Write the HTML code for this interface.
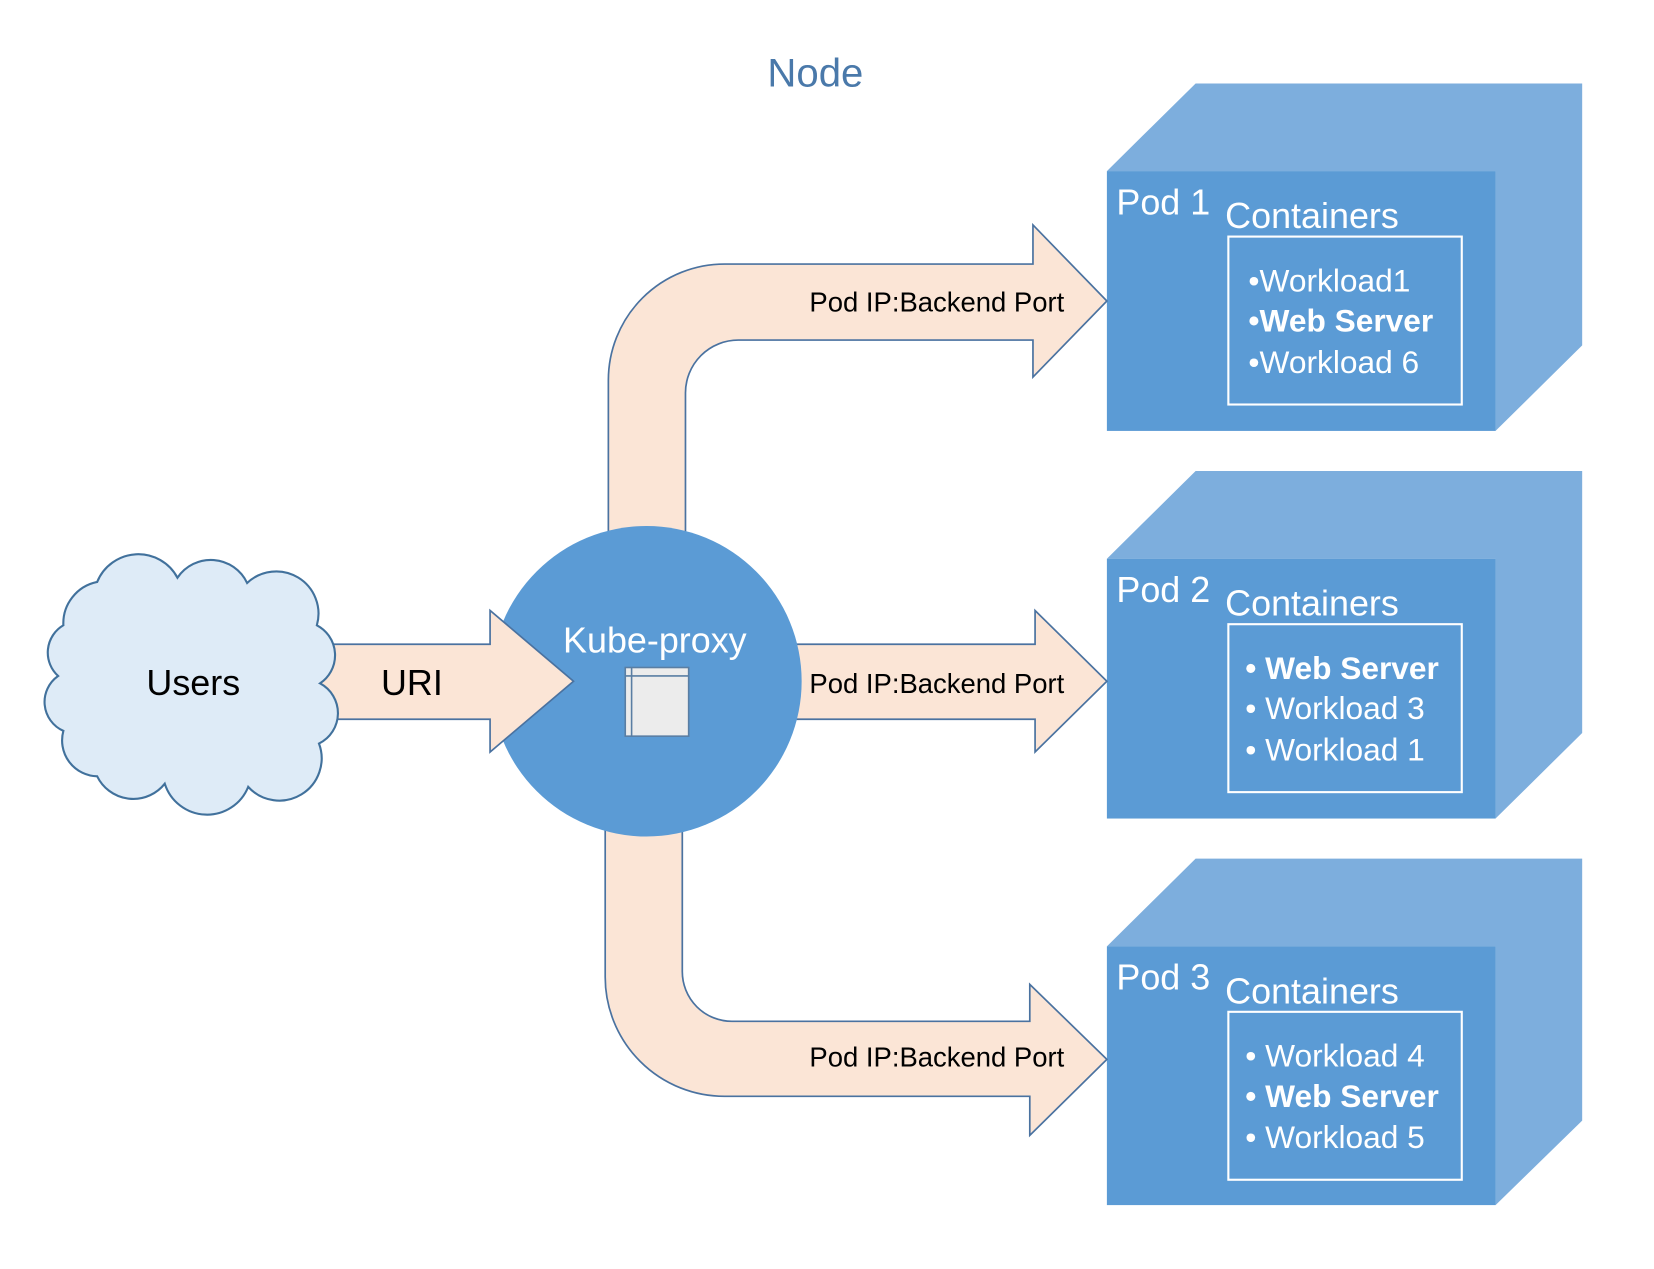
<!DOCTYPE html>
<html><head><meta charset="utf-8"><style>
html,body{margin:0;padding:0;background:#fff;}
svg{display:block;}
text{font-family:"Liberation Sans Narrow","Liberation Sans",sans-serif;}
</style></head><body>
<svg width="1654" height="1269" viewBox="0 0 1566 1201.5" preserveAspectRatio="none" xmlns="http://www.w3.org/2000/svg">
<text x="772" y="82" font-size="38" fill="#4a79aa" text-anchor="middle">Node</text>

<g>
  <polygon points="1048,162 1132,79 1498,79 1498,327 1416,408 1416,162" fill="#7daedd"/>
  <rect x="1048" y="162" width="368" height="246" fill="#5b9bd5"/>
  <rect x="1163" y="224" width="221" height="159" fill="none" stroke="#fff" stroke-width="2"/>
  <text x="1057" y="203" font-size="34" fill="#fff">Pod 1</text>
  <text x="1160" y="216" font-size="34" fill="#fff">Containers</text>
  <text x="1182" y="276" font-size="30" fill="#fff">•Workload1</text>
  <text x="1182" y="314" font-size="30" fill="#fff" font-weight="bold">•Web Server</text>
  <text x="1182" y="353" font-size="30" fill="#fff">•Workload 6</text>
</g>
<g>
  <polygon points="1048,529 1132,446 1498,446 1498,694 1416,775 1416,529" fill="#7daedd"/>
  <rect x="1048" y="529" width="368" height="246" fill="#5b9bd5"/>
  <rect x="1163" y="591" width="221" height="159" fill="none" stroke="#fff" stroke-width="2"/>
  <text x="1057" y="570" font-size="34" fill="#fff">Pod 2</text>
  <text x="1160" y="583" font-size="34" fill="#fff">Containers</text>
  <text x="1179" y="643" font-size="30" fill="#fff" font-weight="bold">• Web Server</text>
  <text x="1179" y="681" font-size="30" fill="#fff">• Workload 3</text>
  <text x="1179" y="720" font-size="30" fill="#fff">• Workload 1</text>
</g>
<g>
  <polygon points="1048,896 1132,813 1498,813 1498,1061 1416,1141 1416,896" fill="#7daedd"/>
  <rect x="1048" y="896" width="368" height="245" fill="#5b9bd5"/>
  <rect x="1163" y="958" width="221" height="159" fill="none" stroke="#fff" stroke-width="2"/>
  <text x="1057" y="937" font-size="34" fill="#fff">Pod 3</text>
  <text x="1160" y="950" font-size="34" fill="#fff">Containers</text>
  <text x="1179" y="1010" font-size="30" fill="#fff">• Workload 4</text>
  <text x="1179" y="1048" font-size="30" fill="#fff" font-weight="bold">• Web Server</text>
  <text x="1179" y="1087" font-size="30" fill="#fff">• Workload 5</text>
</g>

<g fill="#fbe5d6" stroke="#4a72a0" stroke-width="1.6" stroke-linejoin="miter">
  <path d="M576,520 L576,360 A110,110 0 0 1 686,250 L978,250 L978,213 L1048,285 L978,357 L978,322 L699,322 A50,50 0 0 0 649,372 L649,520"/>
  <path d="M740,610 L980,610 L980,578 L1048,645 L980,712 L980,681 L740,681 Z"/>
  <path d="M573,770 L573,925 A113,113 0 0 0 686,1038 L975,1038 L975,1075 L1048,1003 L975,932 L975,967 L693,967 A47,47 0 0 1 646,920 L646,770"/>
</g>

<circle cx="612" cy="645" r="147" fill="#5b9bd5"/>

<path d="M290,610 L464,610 L464,578 L543,645 L464,712 L464,681 L290,681 Z" fill="#fbe5d6" stroke="#4a72a0" stroke-width="1.6"/>

<path d="M60,592 A40,40 0 0 1 92,551 A42,42 0 0 1 168,547 A38,38 0 0 1 234,552 A40,40 0 0 1 300,592 A32,32 0 0 1 303,647 A32,32 0 0 1 302,704 A40,40 0 0 1 235,745 A42,42 0 0 1 156,742 A38,38 0 0 1 92,735 A34,34 0 0 1 60,692 A30,30 0 0 1 55,640 A30,30 0 0 1 60,592 Z" fill="#deebf7" stroke="#41719c" stroke-width="2"/>
<text x="183" y="658" font-size="34" fill="#000" text-anchor="middle">Users</text>
<text x="390" y="658" font-size="34" fill="#000" text-anchor="middle">URI</text>

<text x="620" y="618" font-size="34" fill="#fff" text-anchor="middle">Kube-proxy</text>
<rect x="592" y="632" width="60" height="65" fill="#ececec" stroke="#5a7ea3" stroke-width="1.5"/>
<line x1="598" y1="632" x2="598" y2="697" stroke="#5a7ea3" stroke-width="1.5"/>
<line x1="592" y1="640" x2="652" y2="640" stroke="#5a7ea3" stroke-width="1.5"/>

<text x="887" y="295" font-size="26" fill="#000" text-anchor="middle">Pod IP:Backend Port</text>
<text x="887" y="656" font-size="26" fill="#000" text-anchor="middle">Pod IP:Backend Port</text>
<text x="887" y="1010" font-size="26" fill="#000" text-anchor="middle">Pod IP:Backend Port</text>
</svg>
</body></html>
